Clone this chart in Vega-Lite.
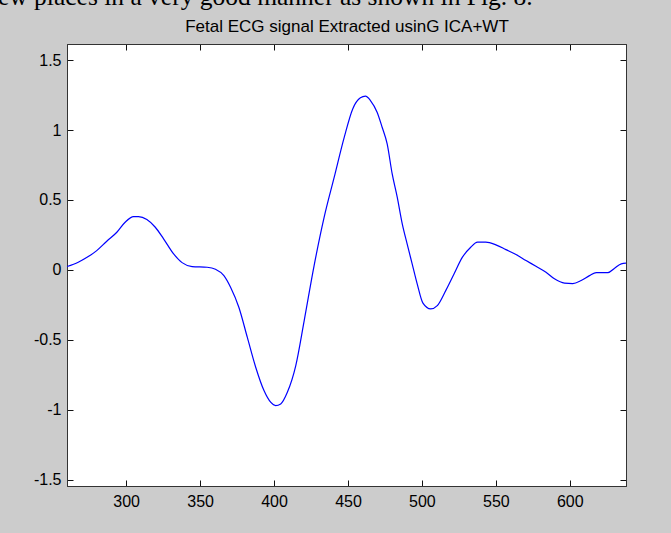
{
  "$schema": "https://vega.github.io/schema/vega-lite/v6.json",
  "width": 559,
  "height": 442,
  "autosize": {"type": "none"},
  "padding": {"left": 67, "top": 44, "right": 45, "bottom": 47},
  "background": "#cccccc",
  "title": {
    "text": "ew places in a very good manner as shown in Fig. 8.",
    "anchor": "start",
    "frame": "group",
    "dx": -69,
    "dy": 23,
    "offset": 10,
    "baseline": "alphabetic",
    "font": "Liberation Serif",
    "fontSize": 25.5,
    "fontWeight": "normal",
    "color": "#000000"
  },
  "config": {
    "view": {"fill": "#ffffff", "stroke": "#333333", "strokeWidth": 1},
    "axis": {
      "grid": false,
      "domainColor": "#333333",
      "tickColor": "#111111",
      "tickSize": -6,
      "labelFont": "Liberation Sans",
      "labelFontSize": 16,
      "labelColor": "#000000",
      "labelFlush": false,
      "labelOverlap": false
    }
  },
  "data": {
    "values": [
      {"t": 260, "v": 0.024},
      {"t": 267.6, "v": 0.055},
      {"t": 274.4, "v": 0.095},
      {"t": 280.1, "v": 0.138},
      {"t": 286.9, "v": 0.205},
      {"t": 293.7, "v": 0.269},
      {"t": 299.3, "v": 0.341},
      {"t": 305, "v": 0.381},
      {"t": 308.4, "v": 0.381},
      {"t": 314, "v": 0.36},
      {"t": 319.7, "v": 0.305},
      {"t": 325.3, "v": 0.222},
      {"t": 332.1, "v": 0.114},
      {"t": 337.8, "v": 0.052},
      {"t": 344.6, "v": 0.024},
      {"t": 354.8, "v": 0.019},
      {"t": 360.4, "v": 0.005},
      {"t": 366.1, "v": -0.041},
      {"t": 370.6, "v": -0.124},
      {"t": 376.2, "v": -0.267},
      {"t": 381.9, "v": -0.481},
      {"t": 387.6, "v": -0.696},
      {"t": 393.2, "v": -0.863},
      {"t": 397.7, "v": -0.946},
      {"t": 401.1, "v": -0.97},
      {"t": 404.5, "v": -0.958},
      {"t": 409, "v": -0.875},
      {"t": 414.7, "v": -0.684},
      {"t": 420.4, "v": -0.362},
      {"t": 427.1, "v": 0.031},
      {"t": 433.9, "v": 0.377},
      {"t": 440.7, "v": 0.663},
      {"t": 447.5, "v": 0.949},
      {"t": 453.2, "v": 1.151},
      {"t": 458.4, "v": 1.23},
      {"t": 461.8, "v": 1.242},
      {"t": 465.2, "v": 1.211},
      {"t": 469.7, "v": 1.127},
      {"t": 473.1, "v": 1.02},
      {"t": 476.5, "v": 0.901},
      {"t": 479.9, "v": 0.686},
      {"t": 483.3, "v": 0.52},
      {"t": 486.7, "v": 0.329},
      {"t": 490, "v": 0.186},
      {"t": 493.4, "v": 0.043},
      {"t": 496.8, "v": -0.1},
      {"t": 500.7, "v": -0.238},
      {"t": 505.9, "v": -0.279},
      {"t": 510.4, "v": -0.255},
      {"t": 516.1, "v": -0.148},
      {"t": 521.7, "v": -0.029},
      {"t": 527.4, "v": 0.091},
      {"t": 533, "v": 0.162},
      {"t": 537.6, "v": 0.198},
      {"t": 543.2, "v": 0.198},
      {"t": 550, "v": 0.179},
      {"t": 556.8, "v": 0.145},
      {"t": 563.6, "v": 0.11},
      {"t": 570.4, "v": 0.067},
      {"t": 577.1, "v": 0.026},
      {"t": 583.9, "v": -0.017},
      {"t": 589.6, "v": -0.064},
      {"t": 596.4, "v": -0.095},
      {"t": 602, "v": -0.098},
      {"t": 607.7, "v": -0.076},
      {"t": 613.3, "v": -0.041},
      {"t": 617.9, "v": -0.019},
      {"t": 625.8, "v": -0.019},
      {"t": 630.3, "v": 0.012},
      {"t": 634.8, "v": 0.043},
      {"t": 638, "v": 0.048}
    ]
  },
  "layer": [
    {
      "mark": {"type": "line", "color": "#0000ff", "strokeWidth": 1.2, "interpolate": "monotone", "clip": true},
      "encoding": {
        "x": {
          "field": "t",
          "type": "quantitative",
          "scale": {"domain": [260, 638], "nice": false, "zero": false},
          "axis": {
            "orient": "bottom",
            "values": [300, 350, 400, 450, 500, 550, 600],
            "labelExpr": "'' + datum.value",
            "labelPadding": 13,
            "title": null
          }
        },
        "y": {
          "field": "v",
          "type": "quantitative",
          "scale": {"domain": [-1.545, 1.615], "nice": false, "zero": false},
          "axis": {
            "orient": "left",
            "values": [-1.5, -1, -0.5, 0, 0.5, 1, 1.5],
            "labelExpr": "'' + datum.value",
            "labelPadding": 12,
            "title": null
          }
        }
      }
    },
    {
      "mark": {"type": "line", "opacity": 0, "clip": true},
      "encoding": {
        "x": {
          "field": "t",
          "type": "quantitative",
          "scale": {"domain": [260, 638], "nice": false, "zero": false},
          "axis": {
            "orient": "top",
            "values": [300, 350, 400, 450, 500, 550, 600],
            "labels": false,
            "title": "Fetal ECG signal Extracted usinG ICA+WT",
            "titleFont": "Liberation Sans",
            "titleFontSize": 17,
            "titleFontWeight": "normal",
            "titleColor": "#000000",
            "titlePadding": 8
          }
        },
        "y": {
          "field": "v",
          "type": "quantitative",
          "scale": {"domain": [-1.545, 1.615], "nice": false, "zero": false},
          "axis": {
            "orient": "right",
            "values": [-1.5, -1, -0.5, 0, 0.5, 1, 1.5],
            "labels": false,
            "title": null
          }
        }
      }
    }
  ],
  "resolve": {"axis": {"x": "independent", "y": "independent"}}
}
